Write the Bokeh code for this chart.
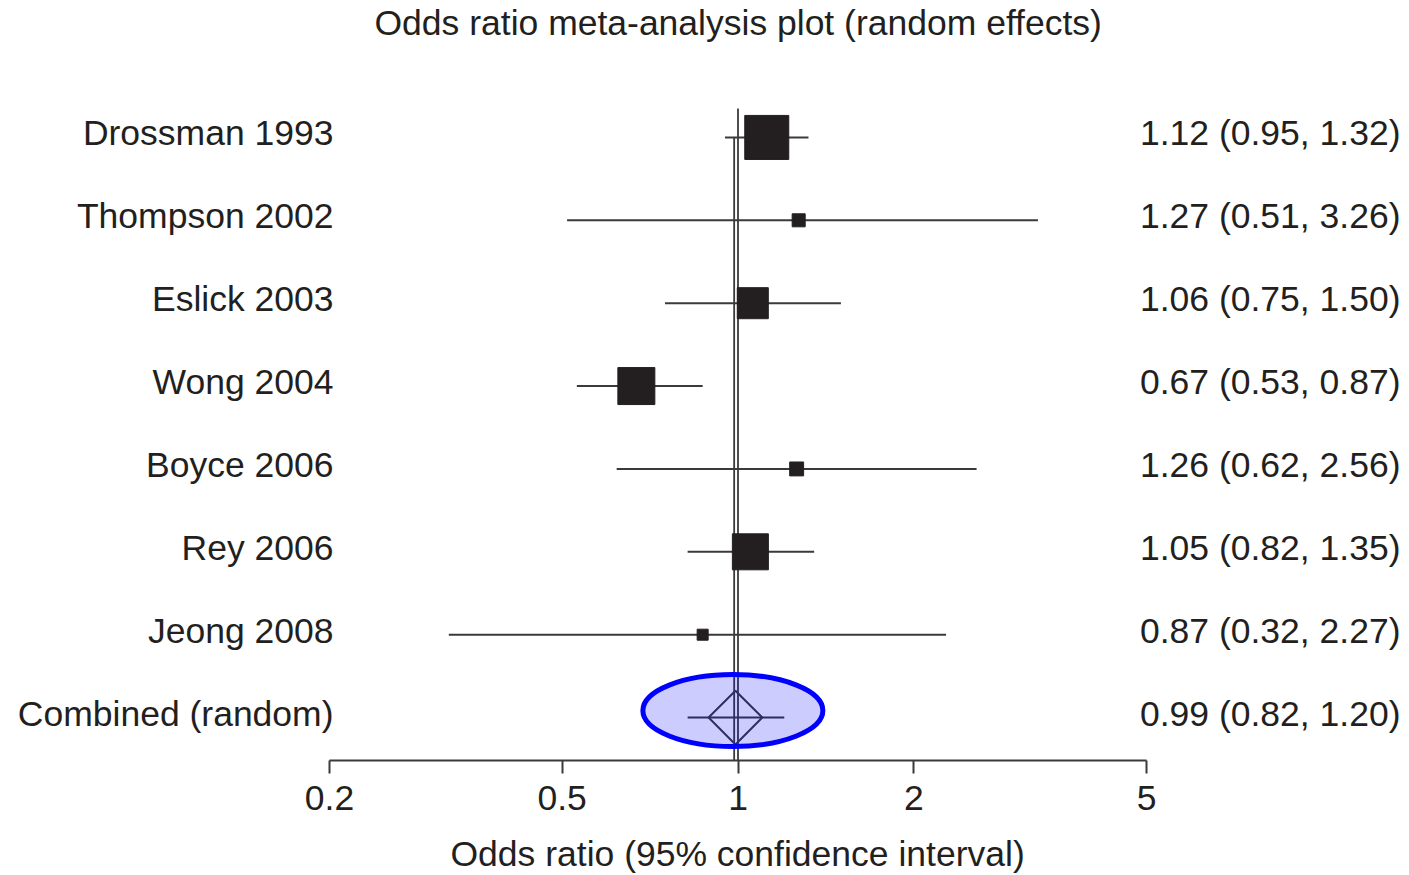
import numpy as np
from bokeh.plotting import figure
from bokeh.models import Range1d, FixedTicker, ColumnDataSource, Title
from bokeh.core.properties import value
from bokeh.embed import file_html
from bokeh.resources import INLINE

studies = ["Drossman 1993", "Thompson 2002", "Eslick 2003", "Wong 2004",
           "Boyce 2006", "Rey 2006", "Jeong 2008"]
odds_ratio = [1.12, 1.27, 1.06, 0.67, 1.26, 1.05, 0.87]
ci_low = [0.95, 0.51, 0.75, 0.53, 0.62, 0.82, 0.32]
ci_high = [1.32, 3.26, 1.50, 0.87, 2.56, 1.35, 2.27]
weights = [32.0, 2.8, 15.9, 22.6, 3.2, 21.4, 2.0]   # estimated relative weights (%)

combined_label = "Combined (random)"
combined_or = 0.99
combined_or_unrounded = 0.985   # estimated position of the summary line
combined_low = 0.82
combined_high = 1.20

tick_values = [0.2, 0.5, 1, 2, 5]
tick_labels = ["0.2", "0.5", "1", "2", "5"]

title_text = "Odds ratio meta-analysis plot (random effects)"
xlabel_text = "Odds ratio (95% confidence interval)"

FONT = "Liberation Sans"
INK = "#231f20"
LINE = "#3a3a3a"
FS = "35.5px"

W, H = 1409, 875
AX_LEFT, AX_RIGHT = 329, 1146      # pixel span of the 0.2 .. 5 axis
k = (np.log10(tick_values[-1]) - np.log10(tick_values[0])) / (AX_RIGHT - AX_LEFT)
x_start = 10 ** (np.log10(tick_values[0]) - AX_LEFT * k)
x_end = 10 ** (np.log10(tick_values[-1]) + (W - AX_RIGHT) * k)

n = len(studies)
rows = list(range(n))
comb_row = n
y_bottom = comb_row + 0.518

p = figure(width=W, height=H, x_axis_type="log",
           x_range=Range1d(x_start, x_end), y_range=Range1d(y_bottom, -0.675),
           output_backend="svg", toolbar_location=None,
           min_border_left=0, min_border_right=0,
           min_border_top=80, min_border_bottom=115,
           y_axis_location=None)
p.outline_line_color = None
p.grid.visible = False
p.background_fill_color = "white"
p.border_fill_color = "white"

# spacer between frame and title, then the title itself
p.add_layout(Title(text=" ", text_font_size="10px", standoff=26), "above")
p.add_layout(Title(text=title_text, align="left", offset=374, standoff=0,
                   text_font=FONT, text_font_size=FS,
                   text_font_style="normal", text_color=INK), "above")

ax = p.xaxis[0]
ax.bounds = (tick_values[0], tick_values[-1])
ax.ticker = FixedTicker(ticks=tick_values)
ax.major_label_overrides = {v: s for v, s in zip(tick_values, tick_labels)}
ax.minor_tick_line_color = None
ax.major_tick_in = 0
ax.major_tick_out = 13
ax.axis_line_width = 2
ax.major_tick_line_width = 2
ax.axis_line_color = LINE
ax.major_tick_line_color = LINE
ax.major_label_text_font = FONT
ax.major_label_text_font_size = FS
ax.major_label_text_color = INK
ax.major_label_standoff = 12

# spacer below the axis, then the axis caption
p.add_layout(Title(text=" ", text_font_size="10px", standoff=6), "below")
p.add_layout(Title(text=xlabel_text, align="left", offset=450, standoff=0,
                   text_font=FONT, text_font_size=FS,
                   text_font_style="normal", text_color=INK), "below")

# reference lines (null at 1, summary at combined estimate)
p.segment(x0=[1], y0=[-0.35], x1=[1], y1=[y_bottom], line_color=LINE, line_width=1.8)
p.segment(x0=[combined_or_unrounded], y0=[0], x1=[combined_or_unrounded], y1=[y_bottom],
          line_color=LINE, line_width=1.8)

# whiskers + weighted squares
src = ColumnDataSource(dict(y=rows, orr=odds_ratio, lo=ci_low, hi=ci_high,
                            size=[7.78 * np.sqrt(w) for w in weights]))
p.segment(x0="lo", y0="y", x1="hi", y1="y", source=src, line_color=LINE, line_width=2)
p.scatter(x="orr", y="y", size="size", marker="square", source=src,
          fill_color=INK, line_color=INK, line_width=1)

# combined estimate
p.segment(x0=[combined_low], y0=[comb_row], x1=[combined_high], y1=[comb_row],
          line_color=LINE, line_width=2)
p.scatter(x=[combined_or], y=[comb_row], size=38, marker="square", angle=np.pi / 4,
          fill_alpha=0, line_color=LINE, line_width=2)

# highlight ellipse
p.ellipse(x=[0.98], y=[comb_row - 0.085], width=180, height=72,
          width_units="screen", height_units="screen",
          fill_color="#0000ff", fill_alpha=0.2, line_color="#0000ff", line_width=5)

# text columns
labels = studies + [combined_label]
right_txt = [f"{o:.2f} ({l:.2f}, {h:.2f})" for o, l, h in zip(odds_ratio, ci_low, ci_high)]
right_txt.append(f"{combined_or:.2f} ({combined_low:.2f}, {combined_high:.2f})")
tsrc = ColumnDataSource(dict(y=rows + [comb_row], name=labels, val=right_txt,
                             xl=[tick_values[0]] * (n + 1), xr=[tick_values[-1]] * (n + 1)))
p.text(x="xl", y="y", text="name", source=tsrc, x_offset=4, y_offset=-4,
       text_align="right", text_baseline="middle",
       text_font=value(FONT), text_font_size=FS, text_color=INK)
p.text(x="xr", y="y", text="val", source=tsrc, x_offset=254, y_offset=-4,
       text_align="right", text_baseline="middle",
       text_font=value(FONT), text_font_size=FS, text_color=INK)

open("out.html", "w").write(file_html(p, INLINE))
